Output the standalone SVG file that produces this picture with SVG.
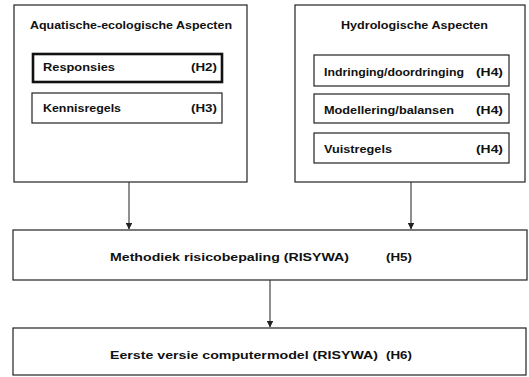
<svg xmlns="http://www.w3.org/2000/svg" width="529" height="377" viewBox="0 0 529 377">
  <style>
    .box { fill: #ffffff; stroke: #222222; stroke-width: 1.2; }
    .thick { fill: #ffffff; stroke: #111111; stroke-width: 2.6; }
    text { font-family: "Liberation Sans", Arial, sans-serif; font-size: 11px; fill: #111111; font-weight: bold; }
    .conn { stroke: #333333; stroke-width: 1.1; fill: none; }
  </style>
  <defs>
    <marker id="arrow" viewBox="0 0 6 6" refX="5.5" refY="3" markerWidth="6" markerHeight="6" orient="auto">
      <path d="M0,0 L6,3 L0,6 z" fill="#222222"/>
    </marker>
  </defs>
  <rect width="529" height="377" fill="#ffffff"/>

  <!-- aquatic-ecological aspects -->
  <g id="aquatisch">
    <rect class="box" x="14" y="5" width="233" height="177"/>
    <text x="30" y="29" textLength="202" lengthAdjust="spacingAndGlyphs">Aquatische-ecologische Aspecten</text>
  </g>
  <g id="responsies">
    <rect class="thick" x="33" y="54" width="189" height="28"/>
    <text x="43" y="71" textLength="72" lengthAdjust="spacingAndGlyphs">Responsies</text>
    <text x="191" y="71" textLength="26" lengthAdjust="spacingAndGlyphs">(H2)</text>
  </g>
  <g id="kennisregels">
    <rect class="box" x="32" y="93" width="190" height="30"/>
    <text x="43" y="112" textLength="78" lengthAdjust="spacingAndGlyphs">Kennisregels</text>
    <text x="191" y="112" textLength="26" lengthAdjust="spacingAndGlyphs">(H3)</text>
  </g>

  <!-- hydrological aspects -->
  <g id="hydrologisch">
    <rect class="box" x="295" y="5" width="230" height="177"/>
    <text x="341" y="29" textLength="147" lengthAdjust="spacingAndGlyphs">Hydrologische Aspecten</text>
  </g>
  <g id="indringing">
    <rect class="box" x="314" y="55" width="195" height="31"/>
    <text x="324" y="76" textLength="140" lengthAdjust="spacingAndGlyphs">Indringing/doordringing</text>
    <text x="476" y="76" textLength="27" lengthAdjust="spacingAndGlyphs">(H4)</text>
  </g>
  <g id="modellering">
    <rect class="box" x="314" y="94" width="195" height="29"/>
    <text x="324" y="114" textLength="130" lengthAdjust="spacingAndGlyphs">Modellering/balansen</text>
    <text x="476" y="114" textLength="27" lengthAdjust="spacingAndGlyphs">(H4)</text>
  </g>
  <g id="vuistregels">
    <rect class="box" x="314" y="133" width="195" height="30"/>
    <text x="324" y="153" textLength="68" lengthAdjust="spacingAndGlyphs">Vuistregels</text>
    <text x="476" y="153" textLength="27" lengthAdjust="spacingAndGlyphs">(H4)</text>
  </g>

  <!-- method -->
  <g id="methodiek">
    <rect class="box" x="13" y="230" width="514" height="50"/>
    <text x="110" y="261" textLength="239" lengthAdjust="spacingAndGlyphs">Methodiek risicobepaling (RISYWA)</text>
    <text x="386" y="261" textLength="26" lengthAdjust="spacingAndGlyphs">(H5)</text>
  </g>

  <!-- first computer model -->
  <g id="computermodel">
    <rect class="box" x="13" y="328" width="513" height="47"/>
    <text x="110" y="359" textLength="268" lengthAdjust="spacingAndGlyphs">Eerste versie computermodel (RISYWA)</text>
    <text x="386" y="359" textLength="26" lengthAdjust="spacingAndGlyphs">(H6)</text>
  </g>

  <!-- connectors -->
  <g id="connectors">
    <line class="conn" x1="129" y1="182" x2="129" y2="229" marker-end="url(#arrow)"/>
    <line class="conn" x1="411" y1="182" x2="411" y2="229" marker-end="url(#arrow)"/>
    <line class="conn" x1="270" y1="280" x2="270" y2="327" marker-end="url(#arrow)"/>
  </g>
</svg>
